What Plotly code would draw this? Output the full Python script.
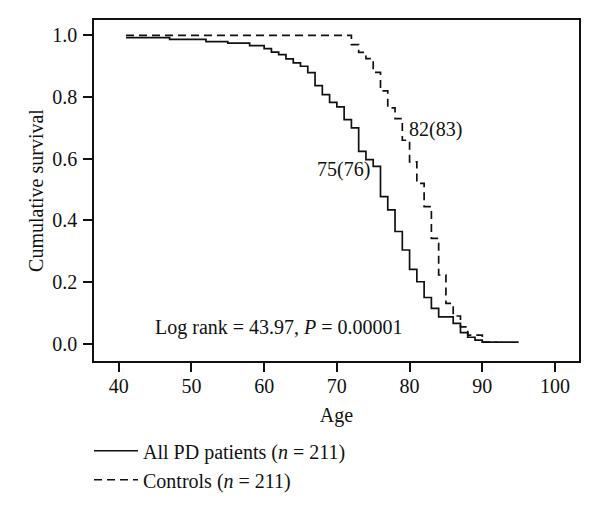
import plotly.graph_objects as go

# PD patients Kaplan-Meier (age, survival after step)
pd_age = [41, 47, 52, 55, 58, 60, 61, 62, 63, 64, 65, 66, 67, 68, 69, 70, 71, 72, 73, 74,
          75, 76, 77, 78, 79, 80, 81, 82, 83, 84, 86, 87, 88, 89, 90, 95]
pd_surv = [0.993, 0.987, 0.980, 0.975, 0.967, 0.957, 0.946, 0.938, 0.924, 0.911, 0.900,
           0.879, 0.837, 0.808, 0.783, 0.768, 0.727, 0.700, 0.624, 0.597, 0.575, 0.477,
           0.434, 0.364, 0.304, 0.241, 0.201, 0.150, 0.115, 0.087, 0.066, 0.036, 0.021,
           0.012, 0.005, 0.005]

# Controls
ct_age = [41, 72, 73, 74, 75, 76, 77, 78, 79, 80, 81, 82, 83, 84, 85, 86, 87, 88, 90, 92]
ct_surv = [1.0, 0.970, 0.945, 0.925, 0.880, 0.820, 0.765, 0.730, 0.660, 0.590, 0.520,
           0.445, 0.342, 0.223, 0.131, 0.090, 0.055, 0.028, 0.005, 0.005]

x_ticks = [40, 50, 60, 70, 80, 90, 100]
y_ticks = [0.0, 0.2, 0.4, 0.6, 0.8, 1.0]

FONT = "Liberation Serif"
FS = 20
INK = "#111"

fig = go.Figure()
fig.add_trace(go.Scatter(x=pd_age, y=pd_surv, mode="lines", line_shape="hv",
                         line=dict(color=INK, width=1.7),
                         name="All PD patients (<i>n</i> = 211)", legendgroup="a"))
fig.add_trace(go.Scatter(x=ct_age, y=ct_surv, mode="lines", line_shape="hv",
                         line=dict(color=INK, width=1.7, dash="8px,5px"),
                         name="Controls (<i>n</i> = 211)", legendgroup="b"))

axis_common = dict(showline=True, mirror=True, linecolor=INK, linewidth=1.5,
                   ticks="outside", ticklen=9, tickwidth=1.5, tickcolor=INK,
                   showgrid=False, zeroline=False, automargin=False,
                   tickfont=dict(family=FONT, size=FS, color=INK))

fig.update_xaxes(range=[36.6, 103.3], tickvals=x_ticks, ticklabelstandoff=-3,
                 title=dict(text="Age", font=dict(family=FONT, size=FS, color=INK), standoff=12),
                 **axis_common)
fig.update_yaxes(range=[-0.056, 1.05], tickvals=y_ticks, tickformat=".1f",
                 ticklabelstandoff=2,
                 title=dict(text="Cumulative survival", font=dict(family=FONT, size=FS, color=INK), standoff=3),
                 **axis_common)

fig.add_annotation(x=83.5, y=0.695, text="82(83)", showarrow=False,
                   font=dict(family=FONT, size=FS, color=INK))
fig.add_annotation(x=70.9, y=0.565, text="75(76)", showarrow=False,
                   font=dict(family=FONT, size=FS, color=INK))
fig.add_annotation(x=62.1, y=0.054, text="Log rank = 43.97, <i>P</i> = 0.00001", showarrow=False,
                   font=dict(family=FONT, size=FS, color=INK))

fig.update_layout(
    width=600, height=510,
    margin=dict(l=86, r=29, t=12, b=157, autoexpand=False),
    paper_bgcolor="white", plot_bgcolor="white",
    showlegend=True,
    legend=dict(x=-0.0103, y=-0.206, xanchor="left", yanchor="top",
                traceorder="grouped", tracegroupgap=0, itemwidth=44,
                font=dict(family=FONT, size=FS, color=INK),
                bgcolor="rgba(0,0,0,0)"),
)

fig.write_html("out.html")
